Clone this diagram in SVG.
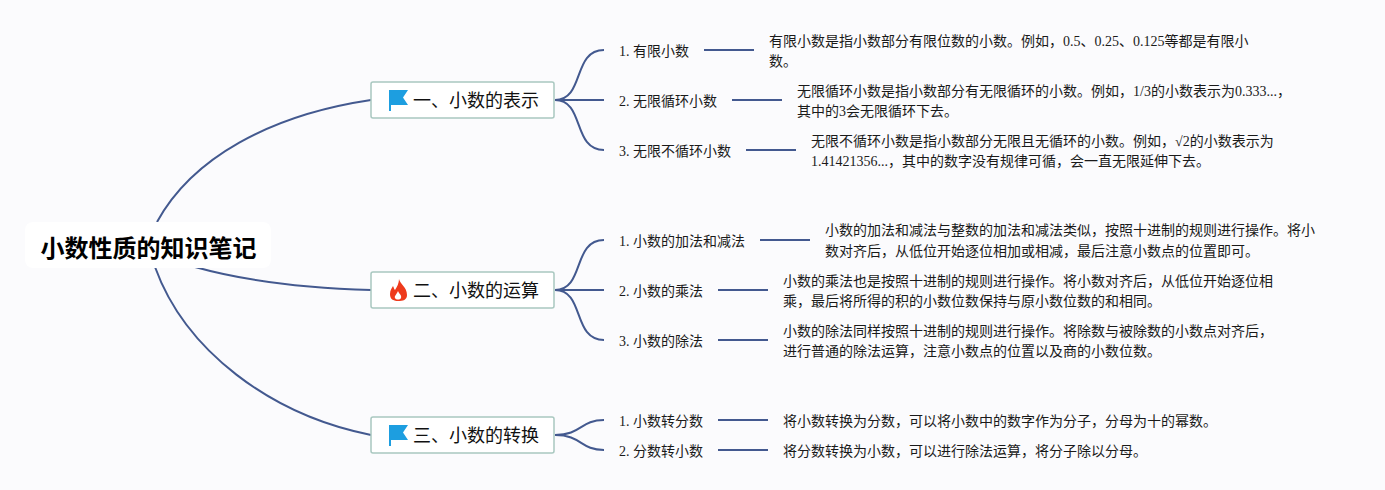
<svg xmlns="http://www.w3.org/2000/svg" width="1385" height="490" viewBox="0 0 1385 490">
<style>
text{font-family:"Liberation Serif","Noto Sans CJK SC",serif;fill:#1a1a1a;font-size:14px}
.t{font-family:"Noto Sans CJK SC","Liberation Sans",sans-serif;font-size:18px;fill:#111}
.r{font-family:"Noto Sans CJK SC","Liberation Sans",sans-serif;font-size:24px;font-weight:700;fill:#000}
.box{fill:#fff;stroke:#a9c8c0;stroke-width:1.5}
.e{fill:none;stroke:#43598f;stroke-width:2}
.flag{fill:#1d9ee0}
.fire{fill:#ee3a1c}
</style>
<rect width="1385" height="490" fill="#fbfbfd"/>
<g id="connectors">
<path class="e" d="M157 222C192 158 270 115 371 100"/>
<path class="e" d="M195 267C245 281 300 288 371 290"/>
<path class="e" d="M155 267C185 350 270 415 371 435"/>
<path class="e" d="M555 100C585 100 572 50 604 50"/>
<path class="e" d="M555 100H604"/>
<path class="e" d="M555 100C585 100 572 150 604 150"/>
<path class="e" d="M555 290C585 290 572 240 604 240"/>
<path class="e" d="M555 290H604"/>
<path class="e" d="M555 290C585 290 572 340 604 340"/>
<path class="e" d="M555 435C582 435 580 420 604 420"/>
<path class="e" d="M555 435C582 435 580 450 604 450"/>
<path class="e" d="M704 50H754"/>
<path class="e" d="M732 100H782"/>
<path class="e" d="M746 150H796"/>
<path class="e" d="M760 240H810"/>
<path class="e" d="M718 290H768"/>
<path class="e" d="M718 340H768"/>
<path class="e" d="M718 420H768"/>
<path class="e" d="M718 450H768"/>
</g>
<g id="root"><rect x="25" y="222" width="246" height="46" rx="8" fill="#fff"/><text class="r" x="40.5" y="257">小数性质的知识笔记</text></g>
<g id="topic1"><rect class="box" x="371" y="82" width="183" height="36" rx="2"/>
<path class="flag" d="M389 90H408L403 97.5L408 105H391V111H389Z"/><text class="t" x="413" y="107">一、小数的表示</text></g>
<g id="topic2"><rect class="box" x="371" y="272" width="183" height="36" rx="2"/>
<path class="fire" d="M399 279C400 284 407 287 407 295C407 300 403 301 398 301C393 301 390 299 390 294C390 290 392 288 393 286C394 288 394 289 395 290C397 287 399 283 399 279Z"/><path d="M398 291C399 294 402 295 401 298C400 300 396 300 395 298C394 296 397 294 398 291Z" fill="#fff"/><text class="t" x="413" y="297">二、小数的运算</text></g>
<g id="topic3"><rect class="box" x="371" y="417" width="183" height="36" rx="2"/>
<path class="flag" d="M389 425H408L403 432.5L408 440H391V446H389Z"/><text class="t" x="413" y="442">三、小数的转换</text></g>
<g id="n1"><text x="619" y="56">1. 有限小数</text><text x="769" y="46">有限小数是指小数部分有限位数的小数。例如，0.5、0.25、0.125等都是有限小</text><text x="769" y="66">数。</text></g>
<g id="n2"><text x="619" y="106">2. 无限循环小数</text><text x="797" y="96">无限循环小数是指小数部分有无限循环的小数。例如，1/3的小数表示为0.333...，</text><text x="797" y="116">其中的3会无限循环下去。</text></g>
<g id="n3"><text x="619" y="156">3. 无限不循环小数</text><text x="811" y="146">无限不循环小数是指小数部分无限且无循环的小数。例如，√2的小数表示为</text><text x="811" y="166">1.41421356...，其中的数字没有规律可循，会一直无限延伸下去。</text></g>
<g id="n4"><text x="619" y="246">1. 小数的加法和减法</text><text x="825" y="235">小数的加法和减法与整数的加法和减法类似，按照十进制的规则进行操作。将小</text><text x="825" y="256">数对齐后，从低位开始逐位相加或相减，最后注意小数点的位置即可。</text></g>
<g id="n5"><text x="619" y="296">2. 小数的乘法</text><text x="783" y="286">小数的乘法也是按照十进制的规则进行操作。将小数对齐后，从低位开始逐位相</text><text x="783" y="306">乘，最后将所得的积的小数位数保持与原小数位数的和相同。</text></g>
<g id="n6"><text x="619" y="346">3. 小数的除法</text><text x="783" y="336">小数的除法同样按照十进制的规则进行操作。将除数与被除数的小数点对齐后，</text><text x="783" y="356">进行普通的除法运算，注意小数点的位置以及商的小数位数。</text></g>
<g id="n7"><text x="619" y="426">1. 小数转分数</text><text x="783" y="426">将小数转换为分数，可以将小数中的数字作为分子，分母为十的幂数。</text></g>
<g id="n8"><text x="619" y="456">2. 分数转小数</text><text x="783" y="456">将分数转换为小数，可以进行除法运算，将分子除以分母。</text></g>
</svg>
